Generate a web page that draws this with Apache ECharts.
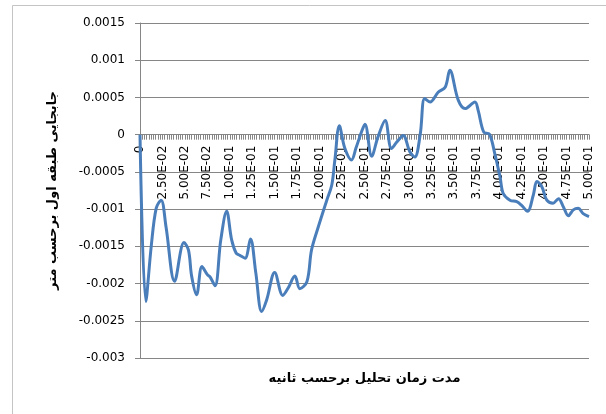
<!DOCTYPE html>
<html>
<head>
<meta charset="utf-8">
<script src="https://cdn.jsdelivr.net/npm/echarts@6/dist/echarts.min.js"></script>
<style>
  html, body { margin: 0; padding: 0; background: #fff; }
  #chart { width: 606px; height: 414px; }
</style>
</head>
<body>
<div id="chart"></div>
<script>
// زمان (ثانیه) و جابجایی طبقه اول (متر) - خوانده شده از نمودار
const timeS = [0, 0.0065, 0.0125, 0.018, 0.0235, 0.029, 0.0385, 0.049, 0.054, 0.0575,
  0.063, 0.069, 0.075, 0.078, 0.0835, 0.09, 0.0965, 0.102, 0.107, 0.111,
  0.117, 0.123, 0.129, 0.1355, 0.141, 0.15, 0.159, 0.165, 0.1725, 0.178,
  0.186, 0.191, 0.1985, 0.208, 0.2135, 0.217, 0.222, 0.228, 0.2355, 0.2405,
  0.247, 0.2505, 0.258, 0.265, 0.273, 0.28, 0.286, 0.293, 0.3005, 0.306,
  0.312, 0.317, 0.323, 0.332, 0.34, 0.345, 0.3545, 0.362, 0.373, 0.3765,
  0.383, 0.389, 0.395, 0.401, 0.4045, 0.412, 0.4195, 0.425, 0.4315, 0.438,
  0.442, 0.4475, 0.453, 0.46, 0.466, 0.4715, 0.477, 0.4825, 0.488, 0.4935, 0.5];

const dispM = [0, -0.00224, -0.0015, -0.00099, -0.00088, -0.00124, -0.00197, -0.00145, -0.00155, -0.0019,
  -0.00215, -0.00177, -0.00188, -0.00191, -0.00203, -0.00141, -0.00103, -0.00141, -0.00159, -0.00162,
  -0.00166, -0.0014, -0.00186, -0.002375, -0.00222, -0.00185, -0.00216, -0.00206, -0.0019, -0.00207,
  -0.00197, -0.00155, -0.00124, -0.00088, -0.00068, -0.00034, 0.00012, -0.00018, -0.00034, -0.00018,
  0.00005, 0.00014, -0.00029, -0.00003, 0.00019, -0.000185, -0.0001, -0.00001, -0.00023, -0.0003,
  0, 0.000485, 0.00044, 0.00057, 0.00064, 0.000865, 0.00046, 0.00035, 0.00044, 0.00033,
  0.00003, 0.00001, -0.00025, -0.00057, -0.00079, -0.00088, -0.0009, -0.00095, -0.00103, -0.00081,
  -0.00063, -0.0007, -0.00088, -0.00092, -0.00086, -0.00097, -0.00109, -0.00101, -0.00099, -0.00106, -0.0011];

const yTicks = { min: -0.003, max: 0.0015, step: 0.0005 };

const xName = "مدت زمان تحلیل برحسب ثانیه";
const yName = "جابجایی طبقه اول برحسب متر";

// برچسب محور افقی به شکل 2.50E-02
function sci(v) {
  if (Math.abs(v) < 1e-12) return "0";
  const parts = v.toExponential(2).split("e");
  const n = parseInt(parts[1], 10);
  return parts[0] + "E" + (n < 0 ? "-" : "+") + String(Math.abs(n)).padStart(2, "0");
}

const gray = "#868686";
const font = "DejaVu Sans";
const W = 606, H = 414;
const grid = { left: 140, right: 17, top: 23, bottom: 56 };

// محور افقی روی خط صفر: فاصله خط صفر تا پایین ناحیه رسم
const plotH = H - grid.top - grid.bottom;
const zeroFromBottom = plotH * (0 - yTicks.min) / (yTicks.max - yTicks.min);

const chart = echarts.init(document.getElementById("chart"));

const option = {
  animation: false,
  textStyle: { fontFamily: font },
  graphic: [
    {
      type: "rect",
      silent: true,
      z: -10,
      shape: { x: 12.5, y: 5.5, width: 620, height: 420 },
      style: { fill: "none", stroke: "#c4c4c4", lineWidth: 1 },
    },
  ],
  grid: Object.assign({ outerBoundsMode: "none" }, grid),
  xAxis: [
    {
      // برچسب‌ها و عنوان محور
      type: "value",
      min: 0,
      max: 0.5,
      interval: 0.025,
      position: "bottom",
      offset: -zeroFromBottom,
      axisLine: { show: false, onZero: false },
      axisTick: { show: false },
      splitLine: { show: false },
      axisLabel: {
        rotate: 90,
        margin: 11,
        color: "#000",
        fontSize: 12,
        fontFamily: font,
        formatter: sci,
      },
      name: xName,
      nameLocation: "middle",
      nameGap: zeroFromBottom + 14,
      nameMoveOverlap: false,
      nameTextStyle: { color: "#000", fontSize: 13, fontWeight: "bold", fontFamily: font },
    },
    {
      // خط محور و تیک‌ها روی صفر
      type: "value",
      min: 0,
      max: 0.5,
      interval: 0.025,
      position: "top",
      axisLine: { show: true, onZero: true, lineStyle: { color: gray, width: 1 } },
      axisTick: { show: true, inside: true, length: 5, lineStyle: { color: gray } },
      minorTick: { show: true, splitNumber: 10, length: 5, lineStyle: { color: gray } },
      axisLabel: { show: false },
      splitLine: { show: false },
    },
  ],
  yAxis: {
    type: "value",
    min: yTicks.min,
    max: yTicks.max,
    interval: yTicks.step,
    axisLine: { show: true, onZero: false, lineStyle: { color: gray } },
    axisTick: { show: true, length: 5, lineStyle: { color: gray } },
    splitLine: { show: true, lineStyle: { color: gray, width: 1 } },
    axisLabel: {
      margin: 15,
      color: "#000",
      fontSize: 12,
      fontFamily: font,
      formatter: (v) => String(+v.toFixed(4)),
    },
    name: yName,
    nameLocation: "middle",
    nameGap: 81,
    nameTextStyle: { color: "#000", fontSize: 13, fontWeight: "bold", fontFamily: font },
  },
  series: [
    {
      name: "disp",
      type: "line",
      xAxisIndex: 0,
      data: timeS.map((t, i) => [t, dispM[i]]),
      showSymbol: false,
      smooth: 0.35,
      lineStyle: { color: "#4A7EBB", width: 3 },
      itemStyle: { color: "#4A7EBB" },
    },
  ],
};

chart.setOption(option);
</script>
</body>
</html>
